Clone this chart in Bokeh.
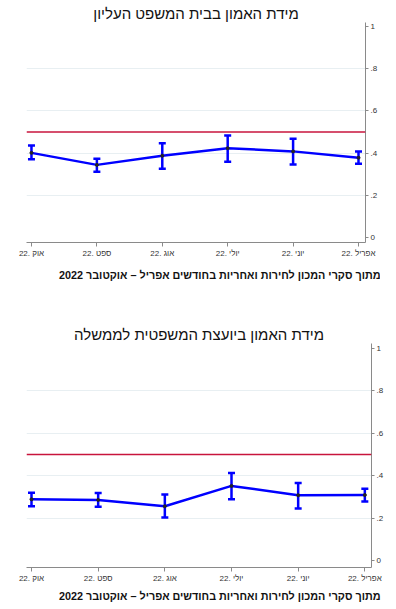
from bokeh.plotting import figure
from bokeh.models import (ColumnDataSource, Range1d, FixedTicker, Whisker,
                          TeeHead, Span, Title)
from bokeh.layouts import column
from bokeh.embed import file_html
from bokeh.resources import INLINE

# ---- data (chronological: April .. October 2022) ----
month_labels = ["22. אפריל", "22. יוני", "22. יולי", "22. אוג", "22. ספט", "22. אוק"]
month_index = [0, 1, 2, 3, 4, 5]

court_mean = [0.378, 0.408, 0.423, 0.387, 0.344, 0.401]
court_low = [0.349, 0.346, 0.359, 0.326, 0.311, 0.371]
court_high = [0.408, 0.468, 0.483, 0.447, 0.373, 0.436]

ag_mean = [0.309, 0.308, 0.352, 0.256, 0.286, 0.289]
ag_low = [0.278, 0.246, 0.289, 0.203, 0.254, 0.256]
ag_high = [0.339, 0.366, 0.413, 0.311, 0.319, 0.320]

y_ticks = [0, 0.2, 0.4, 0.6, 0.8, 1]
y_tick_labels = ["0", ".2", ".4", ".6", ".8", "1"]
grid_ticks = [0.2, 0.4, 0.6, 0.8]
threshold = 0.5

titles = ["מידת האמון בבית המשפט העליון", "מידת האמון ביועצת המשפטית לממשלה"]
source_note = "מתוך סקרי המכון לחירות ואחריות בחודשים אפריל – אוקטובר 2022"

FONT = "Liberation Sans"
BLUE = "#0000ff"
RED = "#c8143c"


def make_chart(mean, low, high, title, frame_w, frame_h, xr, yr, top, bottom,
               title_standoff, note_standoff, note_offset):
    p = figure(frame_width=frame_w, frame_height=frame_h, output_backend="svg",
               toolbar_location=None, x_range=Range1d(*xr), y_range=Range1d(*yr),
               min_border_left=26, min_border_right=8, min_border_top=top,
               min_border_bottom=bottom, y_axis_location="right")
    p.title = None
    p.outline_line_color = None
    p.background_fill_color = "white"
    p.border_fill_color = "white"

    src = ColumnDataSource(dict(x=month_index, m=mean, lo=low, hi=high))

    p.xgrid.visible = False
    p.ygrid.ticker = FixedTicker(ticks=grid_ticks)
    p.ygrid.grid_line_color = "#e8eff2"
    p.ygrid.grid_line_width = 1

    p.add_layout(Span(location=threshold, dimension="width", line_color=RED,
                      line_width=1.5))

    w = Whisker(base="x", upper="hi", lower="lo", source=src, line_color=BLUE,
                line_width=2.5,
                upper_head=TeeHead(size=7, line_color=BLUE, line_width=2.5),
                lower_head=TeeHead(size=7, line_color=BLUE, line_width=2.5))
    p.add_layout(w)

    p.line("x", "m", source=src, line_color=BLUE, line_width=2.5)
    p.scatter("x", "m", source=src, size=3, color="#222222")

    xa = p.xaxis[0]
    xa.ticker = FixedTicker(ticks=month_index)
    xa.major_label_overrides = {i: l for i, l in zip(month_index, month_labels)}
    xa.axis_line_color = "#8a8a8a"
    xa.major_tick_line_color = "#8a8a8a"
    xa.major_tick_out = 4
    xa.major_tick_in = 0
    xa.minor_tick_line_color = None
    xa.major_label_text_font = FONT
    xa.major_label_text_font_size = "8px"
    xa.major_label_text_color = "#333333"
    xa.major_label_standoff = 2

    ya = p.yaxis[0]
    ya.ticker = FixedTicker(ticks=y_ticks)
    ya.major_label_overrides = {t: l for t, l in zip(y_ticks, y_tick_labels)}
    ya.axis_line_color = "#8a8a8a"
    ya.major_tick_line_color = "#8a8a8a"
    ya.major_tick_out = 3
    ya.major_tick_in = 0
    ya.minor_tick_line_color = None
    ya.major_label_text_font = FONT
    ya.major_label_text_font_size = "8px"
    ya.major_label_text_color = "#333333"
    ya.major_label_standoff = 2

    p.add_layout(Title(text=title, align="center", text_font=FONT,
                       text_font_size="15px", text_font_style="normal",
                       text_color="#111111", standoff=title_standoff), "above")
    p.add_layout(Title(text=source_note, align="right", offset=note_offset,
                       text_font=FONT, text_font_size="10.8px",
                       text_font_style="bold", text_color="#111111",
                       standoff=note_standoff), "below")
    return p


p1 = make_chart(court_mean, court_low, court_high, titles[0], 339, 220,
                (5.076, -0.107), (-0.024, 1.019), 22, 58, 2, 12, -15)
p2 = make_chart(ag_mean, ag_low, ag_high, titles[1], 345, 224,
                (5.075, -0.100), (-0.032, 1.022), 43, 40, 2, 5, -9)

layout = column(p1, p2, spacing=0)
open("out.html", "w").write(file_html(layout, INLINE))
